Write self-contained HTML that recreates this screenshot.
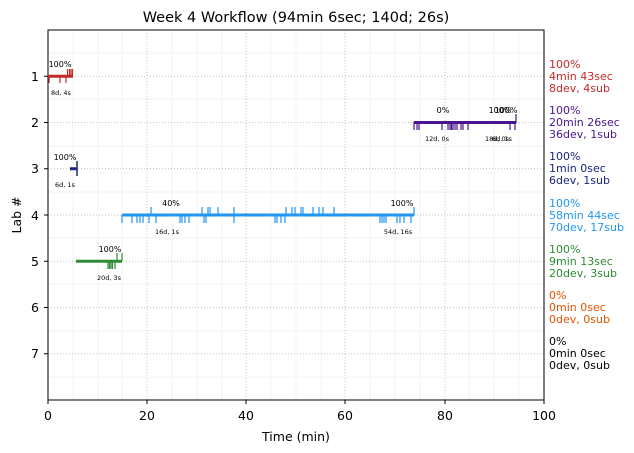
<!DOCTYPE html>
<html><head><meta charset="utf-8"><style>
html,body{margin:0;padding:0;background:#fff;}
svg{display:block;font-family:"DejaVu Sans","Liberation Sans",sans-serif;}
</style></head><body>
<svg width="634" height="453" viewBox="0 0 634 453" xmlns="http://www.w3.org/2000/svg">
<rect width="634" height="453" fill="#fff"/>
<text x="296" y="22" font-size="14.5" text-anchor="middle" fill="#000">Week 4 Workflow (94min 6sec; 140d; 26s)</text>
<g stroke="#f0f0f0" stroke-width="0.8">
<path d="M73,30V400M98,30V400M122,30V400M172,30V400M197,30V400M222,30V400M271,30V400M296,30V400M321,30V400M370,30V400M395,30V400M420,30V400M469,30V400M494,30V400M519,30V400"/>
<path d="M48,53H544M48,99H544M48,146H544M48,192H544M48,238H544M48,284H544M48,331H544M48,377H544"/>
</g>
<g stroke="#b0b0b0" stroke-width="0.8" stroke-dasharray="1,2">
<path d="M147,30V400M246,30V400M345,30V400M445,30V400"/>
<path d="M48,76.25H544M48,122.5H544M48,168.75H544M48,215H544M48,261.25H544M48,307.5H544M48,353.75H544"/>
</g>
<rect x="48" y="30" width="496" height="370" fill="none" stroke="#000" stroke-width="1"/>
<g stroke="#000" stroke-width="1">
<path d="M48,400v4M147,400v4M246,400v4M345,400v4M445,400v4M544,400v4"/>
<path d="M48,76.25h-4M48,122.5h-4M48,168.75h-4M48,215h-4M48,261.25h-4M48,307.5h-4M48,353.75h-4"/>
</g>
<g font-size="12.5" fill="#000">
<g text-anchor="middle"><text x="48" y="420">0</text><text x="147" y="420">20</text><text x="246" y="420">40</text><text x="345" y="420">60</text><text x="445" y="420">80</text><text x="544" y="420">100</text></g>
<g text-anchor="end"><text x="39" y="81">1</text><text x="39" y="127">2</text><text x="39" y="173">3</text><text x="39" y="220">4</text><text x="39" y="266">5</text><text x="39" y="312">6</text><text x="39" y="358">7</text></g>
<text x="296" y="441" text-anchor="middle">Time (min)</text>
<text transform="translate(21,215) rotate(-90)" text-anchor="middle">Lab #</text>
</g>
<g stroke="#c62828" stroke-width="1.2" fill="none">
<path d="M48,76.25H73" stroke-width="3"/>
<path d="M49,76v7M60,76v7M66,76v7M67.5,76v-7M69.5,76v-7M71,76v-7M72.5,76v-7"/>
</g>
<g stroke="#4a148c" stroke-width="1.2" fill="none">
<path d="M414,122.5H516" stroke-width="3"/>
<path d="M414,122v8M417,122v8M419,122v8M442,122v8M448,122v8M450,122v8M451.5,122v8M453,122v8M455,122v8M457,122v8M461,122v8M463,122v8M468,122v8M510,122v8M515,122v8M516,123v-9"/>
</g>
<g stroke="#1a237e" stroke-width="1.5" fill="none">
<path d="M70,168.75H77" stroke-width="3"/>
<path d="M77,161v15"/>
</g>
<g stroke="#2196f3" stroke-width="1.2" fill="none">
<path d="M122,215H414" stroke-width="3"/>
<path d="M122,215v8M132,215v8M137,215v8M140,215v8M143,215v8M149,215v8M156,215v8M180,215v8M182,215v8M185,215v8M189,215v8M204,215v8M206,215v8M234,215v8M275,215v8M277,215v8M281,215v8M285,215v8M380,215v8M382,215v8M384,215v8M386,215v8M397,215v8M400,215v8M404,215v8M411,215v8"/>
<path d="M151,215v-8M202,215v-8M208,215v-8M210,215v-8M218,215v-8M234,215v-8M286,215v-8M292,215v-8M295,215v-8M301,215v-8M303,215v-8M313,215v-8M319,215v-8M323,215v-8M334,215v-8M414,215v-8"/>
</g>
<g stroke="#2e8b36" stroke-width="1.2" fill="none">
<path d="M76,261.25H122" stroke-width="3"/>
<path d="M108,261v8M109.5,261v8M111,261v8M112.5,261v8M115,261v8M117,261v-8M122,261v-8"/>
</g>
<g font-size="8" fill="#000" text-anchor="middle">
<text x="60" y="67">100%</text>
<text x="443" y="113">0%</text><text x="500" y="113">100%</text><text x="506" y="113">100%</text>
<text x="65" y="160">100%</text>
<text x="171" y="206">40%</text><text x="402" y="206">100%</text>
<text x="110" y="252">100%</text>
</g>
<g font-size="6.5" fill="#000" text-anchor="middle">
<text x="61" y="95">8d, 4s</text>
<text x="437" y="141">12d, 0s</text><text x="497" y="141">18d, 0s</text><text x="502" y="141">6d, 1s</text>
<text x="65" y="187">6d, 1s</text>
<text x="167" y="234">16d, 1s</text><text x="398" y="234">54d, 16s</text>
<text x="109" y="280">20d, 3s</text>
</g>
<g font-size="11">
<g fill="#c62828"><text x="549" y="68">100%</text><text x="549" y="80">4min 43sec</text><text x="549" y="92">8dev, 4sub</text></g>
<g fill="#4a148c"><text x="549" y="114">100%</text><text x="549" y="126">20min 26sec</text><text x="549" y="138">36dev, 1sub</text></g>
<g fill="#1a237e"><text x="549" y="160">100%</text><text x="549" y="172">1min 0sec</text><text x="549" y="184">6dev, 1sub</text></g>
<g fill="#2196f3"><text x="549" y="207">100%</text><text x="549" y="219">58min 44sec</text><text x="549" y="231">70dev, 17sub</text></g>
<g fill="#2e8b36"><text x="549" y="253">100%</text><text x="549" y="265">9min 13sec</text><text x="549" y="277">20dev, 3sub</text></g>
<g fill="#e65100"><text x="549" y="299">0%</text><text x="549" y="311">0min 0sec</text><text x="549" y="323">0dev, 0sub</text></g>
<g fill="#000"><text x="549" y="345">0%</text><text x="549" y="357">0min 0sec</text><text x="549" y="369">0dev, 0sub</text></g>
</g>
</svg>
</body></html>
